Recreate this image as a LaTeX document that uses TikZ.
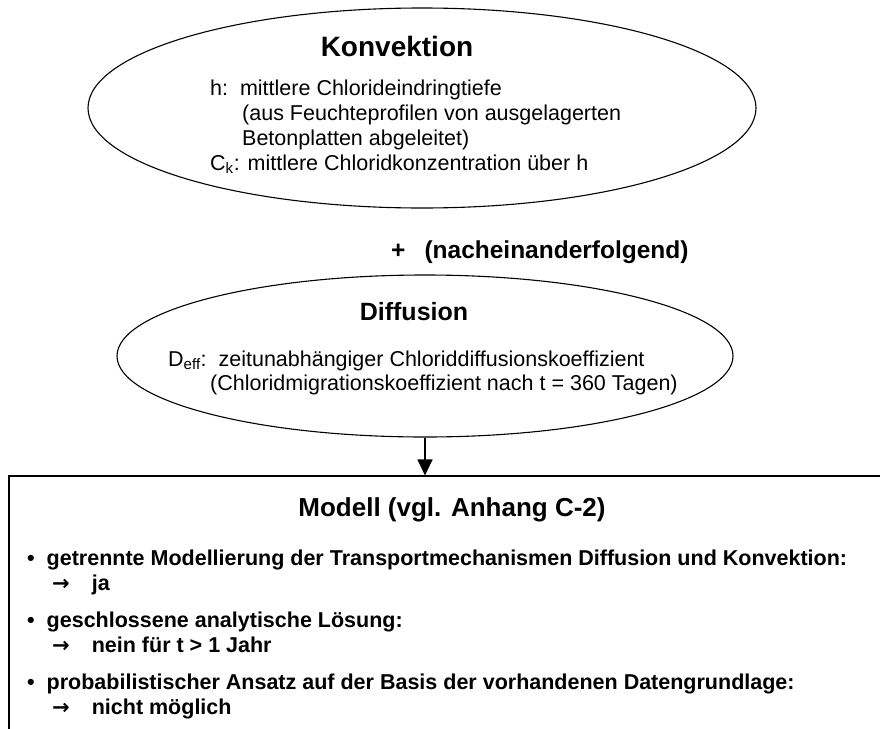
\documentclass[tikz,border=0pt]{standalone}
\usepackage{fontspec}
\setmainfont{Liberation Sans}
\newfontfamily\arrowfont{DejaVu Sans}
\usetikzlibrary{shapes.geometric,arrows.meta}
\newcommand{\rarr}{{\arrowfont\fontsize{21}{22}\selectfont →}}
\begin{document}
\begin{tikzpicture}[x=1pt,y=-1pt,
  ell/.style={draw, ellipse, inner sep=0pt, line width=1.1pt},
  head/.style={anchor=base, inner sep=0pt, font=\fontsize{26}{30}\selectfont\bfseries},
  txt/.style={anchor=base west, inner sep=0pt, font=\fontsize{21.5}{24}\selectfont},
  bul/.style={anchor=base west, inner sep=0pt, font=\fontsize{21.5}{24}\selectfont\bfseries},
  conn/.style={line width=1.1pt, -{Triangle[width=15pt,length=16pt]}}]
\clip (0,0) rectangle (880,728);
% Konvektion
\node[ell, minimum width=668pt, minimum height=200pt] (konv) at (422,108) {};
\node[head, font=\fontsize{28}{30}\selectfont\bfseries] (konvt) at (397,56) {Konvektion};
\node[txt] (k1) at (210,95) {h:\ \ mittlere Chlorideindringtiefe};
\node[txt] (k2) at (242,120) {(aus Feuchteprofilen von ausgelagerten};
\node[txt] (k3) at (242,145) {Betonplatten abgeleitet)};
\node[txt] (k4) at (210,170) {C\textsubscript{k}: mittlere Chloridkonzentration über h};
% plus
\node[head, anchor=base west, font=\fontsize{24.5}{30}\selectfont\bfseries] (plus) at (391,258) {+\hspace{19pt}(nacheinanderfolgend)};
% Diffusion
\node[ell, minimum width=616pt, minimum height=162pt] (diff) at (425,356) {};
\node[head, font=\fontsize{25}{30}\selectfont\bfseries] (difft) at (414,320) {Diffusion};
\node[txt] (d1) at (168,366) {D\textsubscript{eff}:\ \ zeitunabhängiger Chloriddiffusionskoeffizient};
\node[txt] (d2) at (210,390) {(Chloridmigrationskoeffizient nach t = 360 Tagen)};
% Modell box
\node[draw, line width=1.1pt, inner sep=0pt, minimum width=900pt, minimum height=290pt] (box) at (459,621) {};
\draw[conn] (diff.south) -- (diff.south |- box.north);
\node[head] (boxt) at (452,516) {Modell (vgl. Anhang C-2)};
\node[bul] (b1) at (27,565) {•\hspace{12pt}getrennte Modellierung der Transportmechanismen Diffusion und Konvektion:};
\node[bul] (a1) at (52,590) {\rarr\hspace{22pt}ja};
\node[bul] (b2) at (27,627) {•\hspace{12pt}geschlossene analytische Lösung:};
\node[bul] (a2) at (52,652) {\rarr\hspace{22pt}nein für t > 1 Jahr};
\node[bul] (b3) at (27,689) {•\hspace{12pt}probabilistischer Ansatz auf der Basis der vorhandenen Datengrundlage:};
\node[bul] (a3) at (52,714) {\rarr\hspace{22pt}nicht möglich};
\end{tikzpicture}
\end{document}
